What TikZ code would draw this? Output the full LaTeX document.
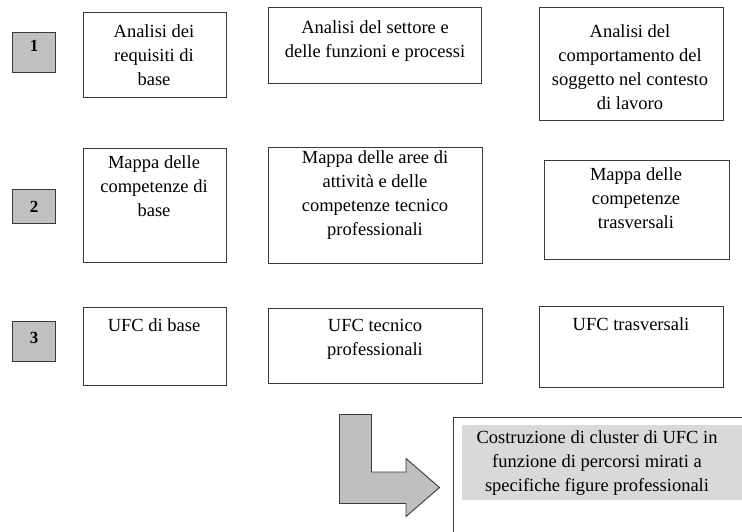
\documentclass[tikz,border=0pt]{standalone}
\usepackage{fontspec}
\setmainfont{Liberation Serif}
\definecolor{numgray}{HTML}{C0C0C0}
\definecolor{arrgray}{HTML}{BFBFBF}
\definecolor{hlgray}{HTML}{D9D9D9}
\definecolor{edge}{HTML}{3A3A3A}
\begin{document}
\begin{tikzpicture}[x=1pt,y=-1pt,
  box/.style={draw=edge, line width=0.9pt, anchor=north west, inner sep=0pt},
  numbox/.style={box, fill=numgray, minimum width=43pt},
  numtxt/.style={anchor=base, inner sep=0pt, font=\fontsize{17}{20}\selectfont\bfseries},
  txt/.style={anchor=north, inner sep=0pt, align=center, font=\fontsize{18.5}{24}\selectfont},
  bigarrow/.style={draw=edge, line width=0.9pt, fill=arrgray, line join=miter}]
\useasboundingbox (0,0) rectangle (742,531);
\clip (0,0) rectangle (742,531);

% row 1
\node[numbox, minimum height=40pt] (n1) at (12,32) {};
\node[numtxt] (n1t) at (34,51) {1};
\node[box, minimum width=143pt, minimum height=85pt] (a1) at (83,12) {};
\node[txt] (a1t) at (154,{37-16.8}) {\strut Analisi dei\\requisiti di\\base};
\node[box, minimum width=213pt, minimum height=76pt] (b1) at (268,7) {};
\node[txt] (b1t) at (375,{33-16.8}) {\strut Analisi del settore e\\delle funzioni e processi};
\node[box, minimum width=184pt, minimum height=113pt] (c1) at (539,7) {};
\node[txt] (c1t) at (630,{37-16.8}) {\strut Analisi del\\comportamento del\\soggetto nel contesto\\di lavoro};

% row 2
\node[numbox, minimum height=34pt] (n2) at (12,189) {};
\node[numtxt] (n2t) at (34,212) {2};
\node[box, minimum width=143pt, minimum height=114pt] (a2) at (83,148) {};
\node[txt] (a2t) at (154,{168-16.8}) {\strut Mappa delle\\competenze di\\base};
\node[box, minimum width=214pt, minimum height=116pt] (b2) at (268,147) {};
\node[txt] (b2t) at (375,{163-16.8}) {\strut Mappa delle aree di\\attività e delle\\competenze tecnico\\professionali};
\node[box, minimum width=185pt, minimum height=99pt] (c2) at (544,160) {};
\node[txt] (c2t) at (636,{180-16.8}) {\strut Mappa delle\\competenze\\trasversali};

% row 3
\node[numbox, minimum height=40pt] (n3) at (12,321) {};
\node[numtxt] (n3t) at (34,343) {3};
\node[box, minimum width=143pt, minimum height=78pt] (a3) at (83,307) {};
\node[txt] (a3t) at (154,{331-16.8}) {\strut UFC di base};
\node[box, minimum width=214pt, minimum height=75pt] (b3) at (268,308) {};
\node[txt] (b3t) at (375,{331-16.8}) {\strut UFC tecnico\\professionali};
\node[box, minimum width=184pt, minimum height=81pt] (c3) at (539,306) {};
\node[txt] (c3t) at (631,{330-16.8}) {\strut UFC trasversali};

% L-shaped arrow
\draw[bigarrow] (339.5,414.5) -- (371.5,414.5) -- (371.5,472) -- (406,472) -- (406,458.5)
  -- (439.5,487.5) -- (406,516.5) -- (406,503.5) -- (339.5,503.5) -- cycle;

% final box
\node[box, minimum width=320pt, minimum height=140pt] (fin) at (453,417) {};
\fill[hlgray] (462,425) rectangle (760,500);
\node[txt] (fint) at (597,{443-16.8}) {\strut Costruzione di cluster di UFC in\\funzione di percorsi mirati a\\specifiche figure professionali};
\end{tikzpicture}
\end{document}
